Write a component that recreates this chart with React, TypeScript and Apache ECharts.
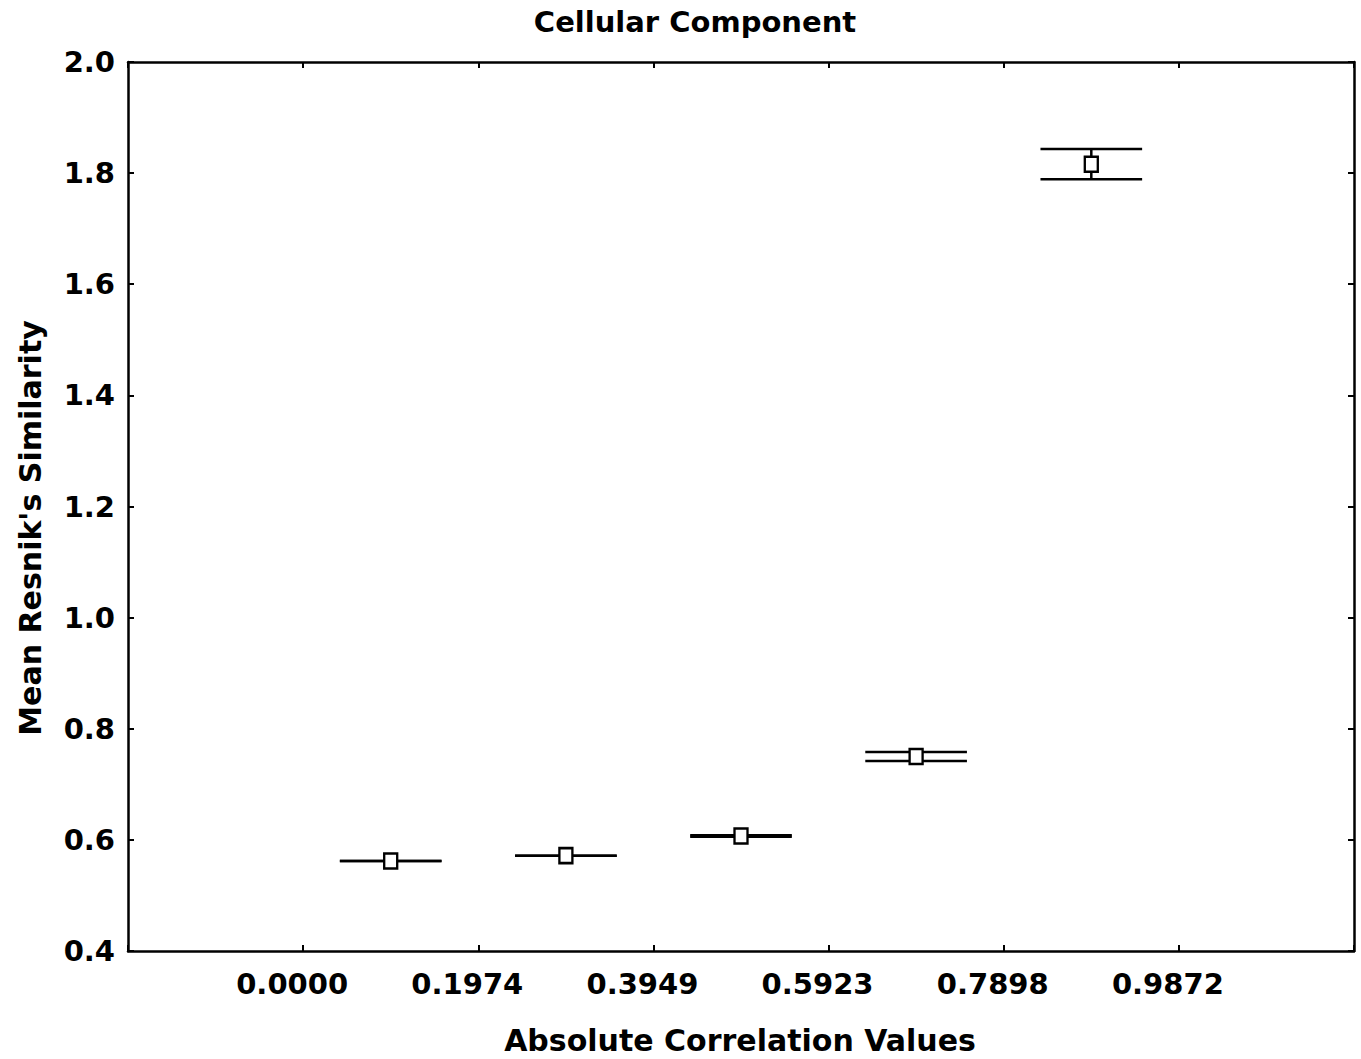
import React, { useEffect, useRef } from "react";
import * as echarts from "echarts";

// Bin midpoints (absolute correlation)
const xMid = [0.0987, 0.2962, 0.4936, 0.691, 0.8885];
// Mean Resnik's similarity and error-bar bounds
const means = [0.562, 0.5715, 0.607, 0.75, 1.816];
const lower = [0.562, 0.5715, 0.6055, 0.742, 1.789];
const upper = [0.562, 0.5715, 0.6085, 0.758, 1.8435];
// Tick labels on the x axis
const xTickLabels = ["0.0000", "0.1974", "0.3949", "0.5923", "0.7898", "0.9872"];
const xStep = 0.19744;

const FONT = "DejaVu Sans";

export default function App() {
  const ref = useRef<HTMLDivElement>(null);
  useEffect(() => {
    document.body.style.margin = "0";
    const chart = echarts.init(ref.current!, null, { renderer: "svg" });
    const hw = 0.0573;
    const fmtX = (v: number) => {
      const i = Math.round(v / xStep);
      if (i < 0 || i >= xTickLabels.length) return "";
      return xTickLabels[i];
    };
    const axisLine = { show: true, onZero: false, lineStyle: { color: "#000", width: 2.5 } };
    const tick = { show: true, inside: true, length: 6, lineStyle: { color: "#000", width: 2 } };
    chart.setOption({
      animation: false,
      backgroundColor: "#fff",
      grid: { left: 128, top: 62, right: 7, bottom: 108, containLabel: false },
      xAxis: [
        {
          type: "value",
          min: -xStep,
          max: 6 * xStep,
          interval: xStep,
          position: "bottom",
          axisLine,
          axisTick: tick,
          splitLine: { show: false },
          axisLabel: {
            formatter: fmtX,
            color: "#000",
            fontFamily: FONT,
            fontWeight: "bold",
            fontSize: 29,
            margin: 18,
            padding: [0, 22, 0, 0],
            showMinLabel: true,
            showMaxLabel: true,
          },
        },
        {
          type: "value",
          min: -xStep,
          max: 6 * xStep,
          interval: xStep,
          position: "top",
          axisLine,
          axisTick: tick,
          splitLine: { show: false },
          axisLabel: { show: false },
        },
      ],
      yAxis: [
        {
          type: "value",
          min: 0.4,
          max: 2.0,
          interval: 0.2,
          position: "left",
          axisLine,
          axisTick: tick,
          splitLine: { show: false },
          axisLabel: {
            formatter: (v: number) => v.toFixed(1),
            color: "#000",
            fontFamily: FONT,
            fontWeight: "bold",
            fontSize: 29,
            margin: 13,
          },
        },
        {
          type: "value",
          min: 0.4,
          max: 2.0,
          interval: 0.2,
          position: "right",
          axisLine,
          axisTick: tick,
          splitLine: { show: false },
          axisLabel: { show: false },
        },
      ],
      graphic: [
        {
          type: "text",
          x: 695,
          y: 22,
          style: {
            text: "Cellular Component",
            fontFamily: FONT,
            fontWeight: "bold",
            fontSize: 29,
            fill: "#000",
            align: "center",
            verticalAlign: "middle",
          },
        },
        {
          type: "text",
          x: 740,
          y: 1040,
          style: {
            text: "Absolute Correlation Values",
            fontFamily: FONT,
            fontWeight: "bold",
            fontSize: 30,
            fill: "#000",
            align: "center",
            verticalAlign: "middle",
          },
        },
        {
          type: "text",
          x: 30,
          y: 528,
          rotation: Math.PI / 2,
          style: {
            text: "Mean Resnik's Similarity",
            fontFamily: FONT,
            fontWeight: "bold",
            fontSize: 30,
            fill: "#000",
            align: "center",
            verticalAlign: "middle",
          },
        },
      ],
      series: [
        {
          type: "custom",
          xAxisIndex: 0,
          yAxisIndex: 0,
          encode: { x: 0, y: [1, 2] },
          data: xMid.map((x, i) => [x, lower[i], upper[i]]),
          renderItem: (_p: any, api: any) => {
            const x = api.value(0);
            const lo = api.value(1);
            const hi = api.value(2);
            const a = api.coord([x - hw, hi]);
            const b = api.coord([x + hw, hi]);
            const c = api.coord([x - hw, lo]);
            const d = api.coord([x + hw, lo]);
            const t = api.coord([x, hi]);
            const s = api.coord([x, lo]);
            const st = { stroke: "#000", lineWidth: 2.5 };
            return {
              type: "group",
              children: [
                { type: "line", shape: { x1: a[0], y1: a[1], x2: b[0], y2: b[1] }, style: st },
                { type: "line", shape: { x1: c[0], y1: c[1], x2: d[0], y2: d[1] }, style: st },
                { type: "line", shape: { x1: t[0], y1: t[1], x2: s[0], y2: s[1] }, style: st },
              ],
            };
          },
          z: 2,
        },
        {
          type: "scatter",
          xAxisIndex: 0,
          yAxisIndex: 0,
          data: xMid.map((x, i) => [x, means[i]]),
          symbol: "rect",
          symbolSize: [13, 15],
          itemStyle: { color: "#fff", borderColor: "#000", borderWidth: 2.5, opacity: 1 },
          z: 3,
        },
      ],
    });
    return () => chart.dispose();
  }, []);
  return <div ref={ref} style={{ width: 1361, height: 1059 }} />;
}
